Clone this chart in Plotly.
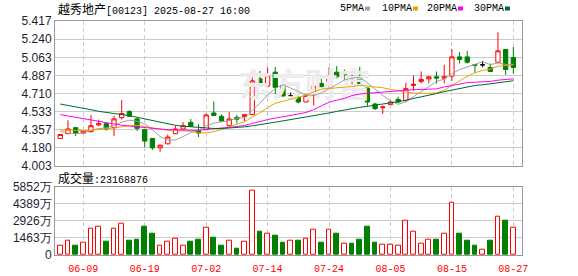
import plotly.graph_objects as go

# ---------------- data ----------------
stock_name = "越秀地产"
stock_code = "00123"
timestamp = "2025-08-27 16:00"

dates = ["06-04", "06-05", "06-06", "06-09", "06-10", "06-11", "06-12", "06-13", "06-16", "06-17",
         "06-18", "06-19", "06-20", "06-23", "06-24", "06-25", "06-26", "06-27", "06-30", "07-02",
         "07-03", "07-04", "07-07", "07-08", "07-09", "07-10", "07-11", "07-14", "07-15", "07-16",
         "07-17", "07-18", "07-21", "07-22", "07-23", "07-24", "07-25", "07-28", "07-29", "07-30",
         "07-31", "08-01", "08-04", "08-05", "08-06", "08-07", "08-08", "08-11", "08-12", "08-13",
         "08-14", "08-15", "08-18", "08-19", "08-20", "08-21", "08-22", "08-25", "08-26", "08-27"]

open_ = [4.272, 4.318, 4.377, 4.324, 4.337, 4.403, 4.416, 4.377, 4.475, 4.534,
         4.462, 4.357, 4.272, 4.180, 4.219, 4.318, 4.364, 4.429, 4.350, 4.357,
         4.520, 4.488, 4.397, 4.478, 4.484, 4.504, 4.853, 4.782, 4.918, 4.789,
         4.685, 4.672, 4.627, 4.692, 4.808, 4.789, 4.918, 4.900, 4.860, 4.873,
         4.763, 4.607, 4.572, 4.601, 4.653, 4.640, 4.789, 4.828, 4.853, 4.873,
         4.860, 4.879, 5.067, 5.067, 4.992, 4.990, 4.964, 5.015, 5.139, 5.061]
high = [4.313, 4.449, 4.380, 4.348, 4.501, 4.455, 4.420, 4.495, 4.645, 4.547,
        4.475, 4.360, 4.275, 4.210, 4.311, 4.396, 4.430, 4.462, 4.410, 4.514,
        4.632, 4.505, 4.530, 4.500, 4.510, 4.899, 4.930, 4.964, 4.970, 4.795,
        4.720, 4.743, 4.700, 4.802, 4.886, 4.964, 4.977, 4.944, 4.892, 4.970,
        4.765, 4.620, 4.594, 4.640, 4.679, 4.815, 4.886, 4.925, 4.880, 4.925,
        4.990, 5.145, 5.113, 5.126, 4.994, 5.028, 5.002, 5.307, 5.141, 5.164]
low = [4.270, 4.316, 4.295, 4.320, 4.330, 4.390, 4.350, 4.295, 4.455, 4.480,
       4.344, 4.187, 4.160, 4.141, 4.215, 4.315, 4.357, 4.388, 4.285, 4.355,
       4.493, 4.440, 4.397, 4.420, 4.440, 4.500, 4.790, 4.780, 4.705, 4.685,
       4.653, 4.614, 4.625, 4.595, 4.776, 4.763, 4.853, 4.840, 4.782, 4.806,
       4.582, 4.550, 4.510, 4.598, 4.614, 4.627, 4.737, 4.808, 4.808, 4.808,
       4.810, 4.834, 5.002, 5.002, 4.912, 4.964, 4.925, 5.013, 4.892, 4.905]
close = [4.311, 4.364, 4.324, 4.344, 4.396, 4.416, 4.364, 4.462, 4.514, 4.488,
         4.370, 4.246, 4.180, 4.206, 4.285, 4.364, 4.396, 4.390, 4.324, 4.501,
         4.495, 4.442, 4.462, 4.460, 4.504, 4.834, 4.802, 4.883, 4.770, 4.685,
         4.685, 4.627, 4.692, 4.782, 4.776, 4.886, 4.873, 4.895, 4.873, 4.808,
         4.627, 4.562, 4.578, 4.627, 4.627, 4.757, 4.800, 4.847, 4.873, 4.860,
         4.873, 5.067, 5.041, 5.015, 4.986, 4.990, 4.925, 5.126, 4.944, 4.964]

ma5 = [4.342, 4.323, 4.316, 4.329, 4.350, 4.368, 4.375, 4.398, 4.430, 4.450,
       4.440, 4.414, 4.355, 4.290, 4.255, 4.258, 4.290, 4.330, 4.352, 4.395,
       4.421, 4.432, 4.445, 4.470, 4.473, 4.545, 4.615, 4.697, 4.759, 4.795,
       4.765, 4.730, 4.694, 4.694, 4.712, 4.753, 4.802, 4.842, 4.861, 4.867,
       4.815, 4.753, 4.690, 4.640, 4.604, 4.630, 4.678, 4.732, 4.781, 4.827,
       4.851, 4.904, 4.943, 4.971, 4.996, 5.020, 4.991, 5.008, 4.994, 4.990]
ma10 = [4.355, 4.352, 4.349, 4.349, 4.352, 4.358, 4.365, 4.374, 4.385, 4.398,
        4.400, 4.390, 4.376, 4.363, 4.352, 4.347, 4.349, 4.342, 4.326, 4.326,
        4.339, 4.358, 4.387, 4.412, 4.434, 4.481, 4.521, 4.571, 4.615, 4.634,
        4.653, 4.671, 4.694, 4.726, 4.754, 4.759, 4.766, 4.767, 4.777, 4.790,
        4.784, 4.777, 4.766, 4.751, 4.736, 4.723, 4.715, 4.711, 4.711, 4.716,
        4.740, 4.791, 4.837, 4.876, 4.912, 4.935, 4.948, 4.976, 4.983, 4.993]
ma20 = [4.504, 4.494, 4.478, 4.465, 4.452, 4.436, 4.424, 4.412, 4.400, 4.392,
        4.385, 4.375, 4.366, 4.360, 4.357, 4.356, 4.355, 4.353, 4.350, 4.360,
        4.365, 4.372, 4.380, 4.388, 4.398, 4.418, 4.440, 4.455, 4.470, 4.481,
        4.496, 4.510, 4.525, 4.552, 4.590, 4.625, 4.645, 4.662, 4.690, 4.705,
        4.712, 4.718, 4.726, 4.733, 4.742, 4.745, 4.747, 4.749, 4.751, 4.755,
        4.774, 4.789, 4.806, 4.816, 4.820, 4.822, 4.828, 4.840, 4.846, 4.853]
ma30 = [4.607, 4.595, 4.582, 4.569, 4.552, 4.536, 4.527, 4.517, 4.504, 4.494,
        4.478, 4.462, 4.446, 4.433, 4.413, 4.400, 4.391, 4.384, 4.377, 4.372,
        4.369, 4.368, 4.372, 4.378, 4.385, 4.395, 4.405, 4.418, 4.430, 4.443,
        4.455, 4.468, 4.480, 4.492, 4.505, 4.520, 4.535, 4.550, 4.562, 4.575,
        4.585, 4.595, 4.605, 4.617, 4.630, 4.645, 4.660, 4.675, 4.692, 4.710,
        4.728, 4.744, 4.757, 4.778, 4.788, 4.795, 4.805, 4.818, 4.828, 4.834]

# volume in 万 (10,000 shares)
vol_wan = [782, 1187, 782, 1014, 2230, 2404, 1129, 2230, 2664, 1216,
           1303, 2433, 1824, 840, 1100, 1361, 782, 1129, 1303, 2317,
           1477, 782, 1187, 521, 1100, 5531, 1998, 1796, 1651, 1043,
           1187, 1216, 1390, 2143, 1043, 2143, 1824, 927, 956, 1303,
           2433, 1043, 869, 869, 782, 2925, 1969, 927, 1274, 1303,
           1796, 4489, 1824, 1216, 782, 492, 1216, 3272, 2954, 2316.8876]

price_ticks = ["4.003", "4.180", "4.357", "4.533", "4.710", "4.887", "5.063", "5.240", "5.417"]
vol_tick_vals = [0, 1463, 2926, 4389, 5852]
vol_tick_text = ["0", "1463万", "2926万", "4389万", "5852万"]
date_labels = ["06-09", "06-19", "07-02", "07-14", "07-24", "08-05", "08-15", "08-27"]
ma_names = ["5PMA", "10PMA", "20PMA", "30PMA"]
ma_series = [ma5, ma10, ma20, ma30]

# ---------------- style ----------------
W, H = 578, 276
ML, MR, MT, MB = 55, 56, 21, 21
RED = "#ff0000"
GREEN = "#008000"
MA_COLORS = ["#a0a0a0", "#f0a000", "#ff00ff", "#006a30"]
GRID = "#cccccc"
FRAME = "#999999"
NUM_FONT = "Liberation Sans, Arial, sans-serif"
MONO_FONT = "Liberation Mono, Courier New, monospace"
CJK = "Noto Sans CJK SC"

plot_h = H - MT - MB
plot_w = W - ML - MR
main_bottom_px = 166
vol_top_px = 186.7
main_domain = [(H - MB - main_bottom_px) / plot_h, 1]
vol_domain = [0, (H - MB - vol_top_px) / plot_h]

n = len(dates)
xs = list(range(n))
x_range = [-0.685, 60.13]
y_range = [float(price_ticks[0]), float(price_ticks[-1])]


def px_to_paper_x(px):
    return (px - ML) / plot_w


def px_to_paper_y(py):
    return (H - MB - py) / plot_h


fig = go.Figure()

# watermark (drawn first, under data)
fig.add_trace(go.Scatter(
    x=[x_range[0] + 0.535 * (x_range[1] - x_range[0])],
    y=[y_range[0] + 0.53 * (y_range[1] - y_range[0])],
    mode="text", text=["东方财富"],
    textfont=dict(family=CJK, size=33, color="#ececec", weight="bold"),
    hoverinfo="skip", showlegend=False, xaxis="x", yaxis="y"))

# candles
groups = [
    ([i for i in xs if close[i] > open_[i]], RED, "#ffffff"),
    ([i for i in xs if close[i] < open_[i]], GREEN, GREEN),
    ([i for i in xs if close[i] == open_[i]], "#000000", "#000000"),
]
for idx, lc, fc in groups:
    if not idx:
        continue
    fig.add_trace(go.Candlestick(
        x=idx,
        open=[open_[i] for i in idx], high=[high[i] for i in idx],
        low=[low[i] for i in idx], close=[close[i] for i in idx],
        increasing=dict(line=dict(color=lc, width=1), fillcolor=fc),
        decreasing=dict(line=dict(color=lc, width=1), fillcolor=fc),
        whiskerwidth=0, showlegend=False, hoverinfo="skip",
        xaxis="x", yaxis="y"))

# moving averages
for name, ser, col in zip(ma_names, ma_series, MA_COLORS):
    fig.add_trace(go.Scatter(x=xs, y=ser, mode="lines", name=name,
                             line=dict(color=col, width=1), showlegend=False,
                             hoverinfo="skip", xaxis="x", yaxis="y"))

# volume bars: colour by close vs previous close
vol_up = [close[i] >= (close[i - 1] if i > 0 else open_[i]) for i in xs]
fig.add_trace(go.Bar(
    x=xs, y=vol_wan, width=0.62,
    marker=dict(color=["#ffffff" if u else GREEN for u in vol_up],
                line=dict(color=[RED if u else GREEN for u in vol_up], width=1)),
    showlegend=False, hoverinfo="skip", xaxis="x2", yaxis="y2"))

tickpos = [dates.index(d) for d in date_labels]

axis_common = dict(showline=True, mirror=True, linecolor=FRAME, linewidth=1,
                   zeroline=False, ticks="")

fig.update_layout(
    width=W, height=H, template="none",
    margin=dict(l=ML, r=MR, t=MT, b=MB, pad=0),
    paper_bgcolor="#ffffff", plot_bgcolor="#ffffff",
    boxgap=0.25, boxgroupgap=0.25, bargap=0,
    showlegend=False,
    xaxis=dict(domain=[0, 1], anchor="y", range=x_range, tickvals=tickpos,
               showticklabels=False, showgrid=True, gridcolor=GRID, griddash="4px,3px",
               gridwidth=1, rangeslider=dict(visible=False), **axis_common),
    yaxis=dict(domain=main_domain, anchor="x", range=y_range,
               tickvals=[float(t) for t in price_ticks], ticktext=price_ticks,
               showgrid=True, gridcolor=GRID, gridwidth=1,
               tickfont=dict(family=NUM_FONT, size=12, color="#1e1e32"), **axis_common),
    xaxis2=dict(domain=[0, 1], anchor="y2", matches="x", range=x_range, tickvals=tickpos,
                ticktext=date_labels, showgrid=True, gridcolor=GRID, griddash="4px,3px",
                gridwidth=1, tickfont=dict(family=MONO_FONT, size=10, color=RED),
                ticklabelstandoff=4, **axis_common),
    yaxis2=dict(domain=vol_domain, anchor="x2", range=[0, vol_tick_vals[-1]],
                tickvals=vol_tick_vals, ticktext=vol_tick_text,
                showgrid=True, gridcolor=GRID, gridwidth=1,
                tickfont=dict(family=NUM_FONT, size=12, color="#1e1e32"), **axis_common),
)

annotations = []
# title
annotations.append(dict(
    xref="paper", yref="paper", x=px_to_paper_x(56), y=px_to_paper_y(8.5),
    xanchor="left", yanchor="middle", showarrow=False,
    text=f'<span style="font-family:{CJK};font-size:12px">{stock_name}</span>[{stock_code}] {timestamp}',
    font=dict(family=MONO_FONT, size=10, color="#000000")))
# volume caption
annotations.append(dict(
    xref="paper", yref="paper", x=px_to_paper_x(56), y=px_to_paper_y(177),
    xanchor="left", yanchor="middle", showarrow=False,
    text=f'<span style="font-family:{CJK};font-size:12px">成交量</span>:{int(round(vol_wan[-1] * 10000))}',
    font=dict(family=MONO_FONT, size=10, color="#000000")))
# MA legend (text followed by colour swatch)
legend_text_px = [338, 380, 425, 472]
shapes = []
for name, col, lx in zip(ma_names, MA_COLORS, legend_text_px):
    annotations.append(dict(
        xref="paper", yref="paper", x=px_to_paper_x(lx), y=px_to_paper_y(8.5),
        xanchor="left", yanchor="middle", showarrow=False, text=name,
        font=dict(family=MONO_FONT, size=10, color="#000000")))
    sx = lx + len(name) * 6 + 3
    shapes.append(dict(type="rect", xref="paper", yref="paper",
                       x0=px_to_paper_x(sx), x1=px_to_paper_x(sx + 5),
                       y0=px_to_paper_y(10.5), y1=px_to_paper_y(6.5),
                       fillcolor=col, line=dict(width=0)))

fig.update_layout(annotations=annotations, shapes=shapes)

fig.write_html("out.html")
